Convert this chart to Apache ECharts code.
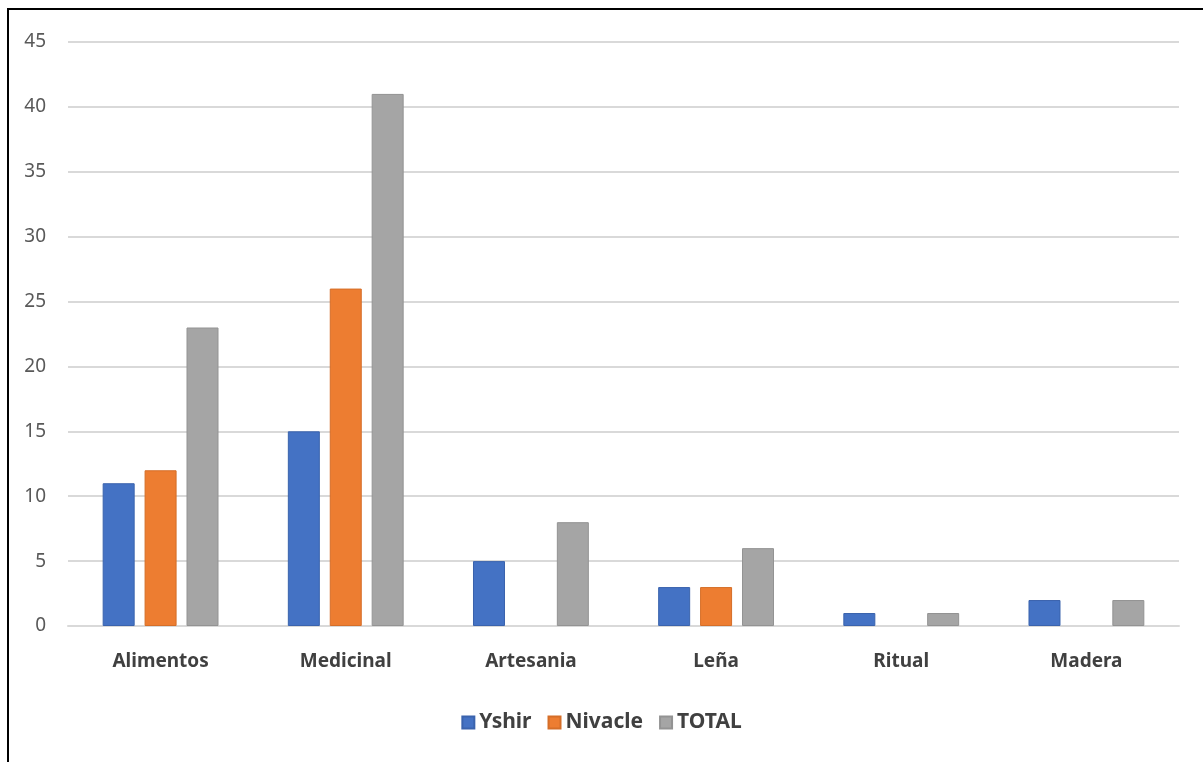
<!DOCTYPE html>
<html><head><meta charset="utf-8">
<script src="https://cdn.jsdelivr.net/npm/echarts@6/dist/echarts.min.js"></script>
<style>html,body{margin:0;padding:0;background:#fff}#c{width:1203px;height:762px}</style>
</head><body><div id="c"></div>
<script>
const categories = ['Alimentos','Medicinal','Artesania','Leña','Ritual','Madera'];
const yshir = [11,15,5,3,1,2];
const nivacle = [12,26,0,3,0,0];
const total = [23,41,8,6,1,2];
const seriesNames = ['Yshir','Nivacle','TOTAL'];
const colors = ['#4472C4','#ED7D31','#A5A5A5'];
const borders = ['#3A63AD','#D56E28','#939393'];
const font = '"Noto Sans", sans-serif';
const chart = echarts.init(document.getElementById('c'));
const data = [yshir, nivacle, total];
chart.setOption({
  animation:false,
  textStyle:{fontFamily:font},
  graphic:[{type:'rect',shape:{x:8,y:9,width:1300,height:900},style:{fill:'none',stroke:'#000',lineWidth:2},silent:true}],
  grid:{left:68,right:24,top:42,bottom:136},
  legend:{bottom:24,left:'center',itemWidth:12,itemHeight:12,itemGap:16,icon:'rect',
    textStyle:{fontSize:21,fontWeight:'bold',color:'#404040',fontFamily:font}},
  xAxis:{type:'category',data:categories,axisTick:{show:false},
    axisLine:{lineStyle:{color:'#D9D9D9',width:2}},
    axisLabel:{fontSize:19,fontWeight:'bold',color:'#404040',margin:26,fontFamily:font}},
  yAxis:{type:'value',min:0,max:45,interval:5,axisLine:{show:false},axisTick:{show:false},
    splitLine:{lineStyle:{color:'#D9D9D9',width:2}},
    axisLabel:{fontSize:19,color:'#595959',margin:22,fontFamily:font}},
  series: seriesNames.map((n,i)=>({name:n,type:'bar',
    data:data[i].map(v=>({value:v,itemStyle:{borderWidth:v?1:0}})),
    barWidth:32,barGap:'31%',
    itemStyle:{color:colors[i],borderColor:borders[i],borderWidth:1}}))
});
</script></body></html>
